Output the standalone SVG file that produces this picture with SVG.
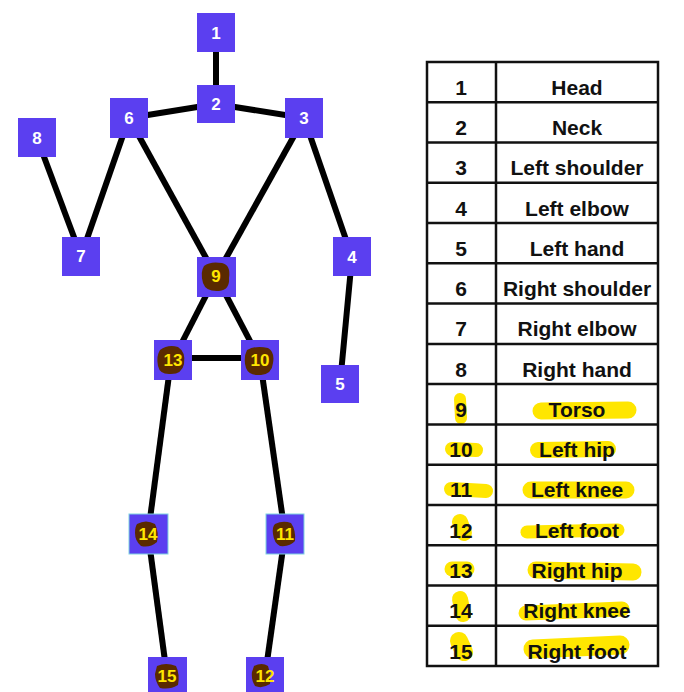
<svg xmlns="http://www.w3.org/2000/svg" width="684" height="692" viewBox="0 0 684 692">
<style>
.node{fill:#5b3ff0}
.edge{stroke:#000;stroke-width:6;stroke-linecap:butt}
.nl{font-family:"Liberation Sans",Arial,sans-serif;font-weight:bold;font-size:17px;text-anchor:middle;fill:#fff}
.nly{fill:#ffe600}
.blob{fill:#5a2a00}
.tl{font-family:"Liberation Sans",Arial,sans-serif;font-weight:bold;font-size:21px;text-anchor:middle;fill:#111}
.hl{stroke:#ffe600;stroke-linecap:round;fill:none}
.grid{stroke:#111;stroke-width:2.5;fill:none}
</style>
<rect width="684" height="692" fill="#fff"/>
<g id="connectors">
<line class="edge" x1="216" y1="33" x2="216" y2="104"/>
<line class="edge" x1="216" y1="104" x2="129" y2="118"/>
<line class="edge" x1="216" y1="104" x2="304" y2="118"/>
<line class="edge" x1="37" y1="138" x2="81" y2="256"/>
<line class="edge" x1="129" y1="118" x2="81" y2="256"/>
<line class="edge" x1="129" y1="118" x2="216" y2="276"/>
<line class="edge" x1="304" y1="118" x2="216" y2="276"/>
<line class="edge" x1="304" y1="118" x2="352" y2="257"/>
<line class="edge" x1="352" y1="257" x2="340" y2="384"/>
<line class="edge" x1="216" y1="276" x2="173" y2="360"/>
<line class="edge" x1="216" y1="276" x2="260" y2="360"/>
<line class="edge" x1="173" y1="358" x2="260" y2="358"/>
<line class="edge" x1="171" y1="360" x2="148" y2="534"/>
<line class="edge" x1="260" y1="360" x2="285" y2="534"/>
<line class="edge" x1="148" y1="534" x2="167" y2="676"/>
<line class="edge" x1="285" y1="534" x2="265" y2="676"/>
</g>
<g id="n1"><rect class="node" x="197" y="13" width="38" height="39"/><text class="nl" x="216" y="39">1</text></g>
<g id="n2"><rect class="node" x="197" y="85" width="38" height="38"/><text class="nl" x="216" y="110">2</text></g>
<g id="n3"><rect class="node" x="285" y="98" width="38" height="40"/><text class="nl" x="304" y="124">3</text></g>
<g id="n4"><rect class="node" x="333" y="237" width="38" height="39"/><text class="nl" x="352" y="263">4</text></g>
<g id="n5"><rect class="node" x="321" y="365" width="38" height="38"/><text class="nl" x="340" y="390">5</text></g>
<g id="n6"><rect class="node" x="110" y="98" width="38" height="40"/><text class="nl" x="129" y="124">6</text></g>
<g id="n7"><rect class="node" x="62" y="237" width="38" height="39"/><text class="nl" x="81" y="262">7</text></g>
<g id="n8"><rect class="node" x="18" y="118" width="38" height="39"/><text class="nl" x="37" y="144">8</text></g>
<g id="n9"><rect class="node" x="197" y="257" width="39" height="40"/><path class="blob" d="M204 266 Q210 261 222 263 Q231 265 229 278 Q230 290 219 291 Q206 292 203 283 Q200 272 204 266Z"/><text class="nl nly" x="216" y="282">9</text></g>
<g id="n10"><rect class="node" x="241" y="340" width="38" height="40"/><path class="blob" d="M247 350 Q256 345 268 348 Q275 352 273 363 Q272 374 261 375 Q249 376 246 368 Q243 358 247 350Z"/><text class="nl nly" x="260" y="366">10</text></g>
<g id="n11"><rect class="node" x="266" y="514" width="38" height="40" stroke="#7fd3e0" stroke-width="1"/><path class="blob" d="M275 524 Q283 520 291 523 Q296 530 295 541 Q290 547 280 546 Q274 543 273 534 Q272 527 275 524Z"/><text class="nl nly" x="285" y="540">11</text></g>
<g id="n12"><rect class="node" x="246" y="657" width="38" height="36"/><path class="blob" d="M254 666 Q262 662 268 666 Q271 674 270 684 Q262 689 255 686 Q251 680 252 672Z"/><text class="nl nly" x="265" y="682">12</text></g>
<g id="n13"><rect class="node" x="154" y="340" width="38" height="40"/><path class="blob" d="M160 350 Q168 344 178 347 Q186 352 184 364 Q182 374 171 374 Q160 375 158 366 Q156 356 160 350Z"/><text class="nl nly" x="173" y="366">13</text></g>
<g id="n14"><rect class="node" x="129" y="514" width="39" height="40" stroke="#7fd3e0" stroke-width="1"/><path class="blob" d="M137 524 Q146 519 155 524 Q159 532 157 542 Q150 548 141 546 Q135 541 135 533 Q135 527 137 524Z"/><text class="nl nly" x="148" y="540">14</text></g>
<g id="n15"><rect class="node" x="148" y="657" width="39" height="36"/><path class="blob" d="M157 666 Q166 662 176 666 Q180 674 178 685 Q170 690 160 688 Q155 681 155 674Z"/><text class="nl nly" x="167" y="682">15</text></g>
<g id="legend">
<g id="highlights">
<path class="hl" stroke-width="12" d="M460 399 L461 418"/>
<path class="hl" stroke-width="17" d="M541 411 L628 410"/>
<path class="hl" stroke-width="14" d="M452 449 L476 450"/>
<path class="hl" stroke-width="16" d="M538 450 L608 449"/>
<path class="hl" stroke-width="14" d="M451 489 L486 491"/>
<path class="hl" stroke-width="17" d="M531 490 L626 490"/>
<path class="hl" stroke-width="16" d="M460 522 L464 533"/>
<path class="hl" stroke-width="13" d="M527 532 L618 530"/>
<path class="hl" stroke-width="15" d="M452 569 L467 569"/>
<path class="hl" stroke-width="17" d="M536 570 L633 572"/>
<path class="hl" stroke-width="16" d="M460 599 L463 614"/>
<path class="hl" stroke-width="15" d="M526 613 L622 609"/>
<path class="hl" stroke-width="18" d="M459 641 L464 652"/>
<path class="hl" stroke-width="19" d="M533 649 L620 645"/>
</g>
<rect class="grid" x="427" y="62" width="231" height="604"/>
<line class="grid" x1="496" y1="62" x2="496" y2="666"/>
<line class="grid" x1="427" y1="102.3" x2="658" y2="102.3"/>
<line class="grid" x1="427" y1="142.5" x2="658" y2="142.5"/>
<line class="grid" x1="427" y1="182.8" x2="658" y2="182.8"/>
<line class="grid" x1="427" y1="223.1" x2="658" y2="223.1"/>
<line class="grid" x1="427" y1="263.3" x2="658" y2="263.3"/>
<line class="grid" x1="427" y1="303.6" x2="658" y2="303.6"/>
<line class="grid" x1="427" y1="343.9" x2="658" y2="343.9"/>
<line class="grid" x1="427" y1="384.1" x2="658" y2="384.1"/>
<line class="grid" x1="427" y1="424.4" x2="658" y2="424.4"/>
<line class="grid" x1="427" y1="464.7" x2="658" y2="464.7"/>
<line class="grid" x1="427" y1="504.9" x2="658" y2="504.9"/>
<line class="grid" x1="427" y1="545.2" x2="658" y2="545.2"/>
<line class="grid" x1="427" y1="585.5" x2="658" y2="585.5"/>
<line class="grid" x1="427" y1="625.7" x2="658" y2="625.7"/>
<text class="tl" x="461" y="95">1</text><text class="tl" x="577" y="95">Head</text>
<text class="tl" x="461" y="135">2</text><text class="tl" x="577" y="135">Neck</text>
<text class="tl" x="461" y="175">3</text><text class="tl" x="577" y="175">Left shoulder</text>
<text class="tl" x="461" y="216">4</text><text class="tl" x="577" y="216">Left elbow</text>
<text class="tl" x="461" y="256">5</text><text class="tl" x="577" y="256">Left hand</text>
<text class="tl" x="461" y="296">6</text><text class="tl" x="577" y="296">Right shoulder</text>
<text class="tl" x="461" y="336">7</text><text class="tl" x="577" y="336">Right elbow</text>
<text class="tl" x="461" y="377">8</text><text class="tl" x="577" y="377">Right hand</text>
<text class="tl" x="461" y="417">9</text><text class="tl" x="577" y="417">Torso</text>
<text class="tl" x="461" y="457">10</text><text class="tl" x="577" y="457">Left hip</text>
<text class="tl" x="461" y="497">11</text><text class="tl" x="577" y="497">Left knee</text>
<text class="tl" x="461" y="538">12</text><text class="tl" x="577" y="538">Left foot</text>
<text class="tl" x="461" y="578">13</text><text class="tl" x="577" y="578">Right hip</text>
<text class="tl" x="461" y="618">14</text><text class="tl" x="577" y="618">Right knee</text>
<text class="tl" x="461" y="659">15</text><text class="tl" x="577" y="659">Right foot</text>
</g>
</svg>
